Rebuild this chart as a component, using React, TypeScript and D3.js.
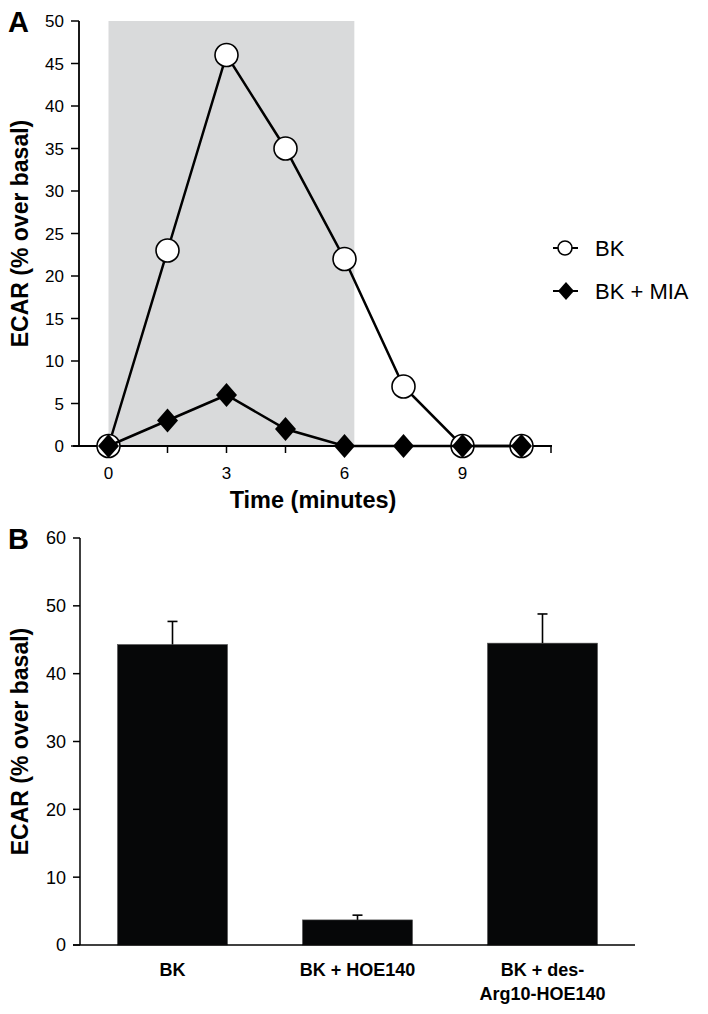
import React from 'react';
import * as d3 from 'd3';

// ---------- Panel A data ----------
const timePoints = [0, 1.5, 3, 4.5, 6, 7.5, 9, 10.5];
const bkValues = [0, 23, 46, 35, 22, 7, 0, 0];
const bkMiaValues = [0, 3, 6, 2, 0, 0, 0, 0];
const topYTicks = [0, 5, 10, 15, 20, 25, 30, 35, 40, 45, 50];
const topXTicks = [0, 1.5, 3, 4.5, 6, 7.5, 9, 10.5, 11.25];
const topXLabels = [0, 3, 6, 9];
const stimulusWindow = [0, 6.25];
const seriesNames = ['BK', 'BK + MIA'];

// ---------- Panel B data ----------
const barCategories = [['BK'], ['BK + HOE140'], ['BK + des-', 'Arg10-HOE140']];
const barValues = [44.3, 3.7, 44.5];
const barErrors = [3.4, 0.7, 4.3];
const bottomYTicks = [0, 10, 20, 30, 40, 50, 60];

const FONT = '"Liberation Sans", Arial, Helvetica, sans-serif';

export default function App() {
  // Panel A scales
  const x = d3.scaleLinear().domain([-0.75, 11.25]).range([79, 551]);
  const y = d3.scaleLinear().domain([0, 50]).range([446, 21]);
  const ptsBK = timePoints.map((t, i) => [x(t), y(bkValues[i])] as [number, number]);
  const ptsMIA = timePoints.map((t, i) => [x(t), y(bkMiaValues[i])] as [number, number]);
  const line = d3.line();
  const diamond = (cx: number, cy: number, rx: number, ry: number) =>
    `M${cx},${cy - ry}L${cx + rx},${cy}L${cx},${cy + ry}L${cx - rx},${cy}Z`;

  // Panel B scales
  const xb = d3
    .scaleBand<number>()
    .domain(barValues.map((_, i) => i))
    .range([80, 635])
    .paddingInner(0.405)
    .paddingOuter(0.2025);
  const yb = d3.scaleLinear().domain([0, 60]).range([945, 538]);

  const legendY = [248, 291];

  return (
    <div style={{ position: 'absolute', left: 0, top: 0 }}>
      <svg width={708} height={1014} style={{ display: 'block', background: '#fff' }} fontFamily={FONT}>
        {/* ================= Panel A ================= */}
        <text x={8} y={32} fontSize={29} fontWeight="bold">A</text>
        <rect
          x={x(stimulusWindow[0])}
          y={y(50)}
          width={x(stimulusWindow[1]) - x(stimulusWindow[0])}
          height={y(0) - y(50)}
          fill="#d9dadb"
        />
        {/* y axis */}
        <line x1={79} x2={79} y1={y(50)} y2={y(0)} stroke="#000" strokeWidth={1.8} />
        {topYTicks.map((t) => (
          <g key={'yt' + t}>
            <line x1={71} x2={79} y1={y(t)} y2={y(t)} stroke="#000" strokeWidth={1.5} />
            <text x={64} y={y(t)} dy="0.36em" textAnchor="end" fontSize={17}>{t}</text>
          </g>
        ))}
        {/* x axis */}
        <line x1={73} x2={552} y1={y(0)} y2={y(0)} stroke="#000" strokeWidth={1.8} />
        {topXTicks.map((t) => (
          <line key={'xt' + t} x1={x(t)} x2={x(t)} y1={y(0)} y2={y(0) + 7} stroke="#000" strokeWidth={1.5} />
        ))}
        {topXLabels.map((t) => (
          <text key={'xl' + t} x={x(t)} y={479} textAnchor="middle" fontSize={17}>{t}</text>
        ))}
        <text x={313} y={508} textAnchor="middle" fontSize={23.5} fontWeight="bold">Time (minutes)</text>
        <text
          transform={`translate(28,${(y(0) + y(50)) / 2}) rotate(-90)`}
          textAnchor="middle"
          fontSize={23}
          fontWeight="bold"
        >
          ECAR (% over basal)
        </text>

        {/* BK series */}
        <path d={line(ptsBK) || ''} fill="none" stroke="#000" strokeWidth={2.5} />
        {ptsBK.map((p, i) => (
          <circle key={'c' + i} cx={p[0]} cy={p[1]} r={11.5} fill="#fff" stroke="#000" strokeWidth={1.6} />
        ))}
        {/* BK + MIA series */}
        <path d={line(ptsMIA) || ''} fill="none" stroke="#000" strokeWidth={2.5} />
        {ptsMIA.map((p, i) => (
          <path key={'d' + i} d={diamond(p[0], p[1], 10.5, 12)} fill="#000" />
        ))}

        {/* Legend */}
        <line x1={553} x2={578} y1={legendY[0]} y2={legendY[0]} stroke="#000" strokeWidth={2} />
        <circle cx={565} cy={legendY[0]} r={7} fill="#fff" stroke="#000" strokeWidth={1.6} />
        <text x={595} y={legendY[0]} dy="0.36em" fontSize={22}>{seriesNames[0]}</text>
        <line x1={553} x2={578} y1={legendY[1]} y2={legendY[1]} stroke="#000" strokeWidth={2} />
        <path d={diamond(566, legendY[1], 8, 9)} fill="#000" />
        <text x={595} y={legendY[1]} dy="0.36em" fontSize={22}>{seriesNames[1]}</text>

        {/* ================= Panel B ================= */}
        <text x={8} y={549} fontSize={29} fontWeight="bold">B</text>
        {barValues.map((v, i) => {
          const cx = (xb(i) as number) + xb.bandwidth() / 2;
          return (
            <g key={'b' + i}>
              <rect
                x={xb(i)}
                y={yb(v)}
                width={xb.bandwidth()}
                height={yb(0) - yb(v)}
                fill="#060708"
                stroke="#555"
                strokeWidth={0.6}
              />
              <line x1={cx} x2={cx} y1={yb(v)} y2={yb(v + barErrors[i])} stroke="#000" strokeWidth={1.6} />
              <line x1={cx - 5} x2={cx + 5} y1={yb(v + barErrors[i])} y2={yb(v + barErrors[i])} stroke="#000" strokeWidth={1.6} />
            </g>
          );
        })}
        <line x1={80} x2={80} y1={yb(60)} y2={yb(0)} stroke="#000" strokeWidth={1.5} />
        {bottomYTicks.map((t) => (
          <g key={'byt' + t}>
            <line x1={73} x2={80} y1={yb(t)} y2={yb(t)} stroke="#000" strokeWidth={1.5} />
            <text x={66} y={yb(t)} dy="0.36em" textAnchor="end" fontSize={18}>{t}</text>
          </g>
        ))}
        <line x1={73} x2={635} y1={yb(0)} y2={yb(0)} stroke="#000" strokeWidth={1.5} />
        {barCategories.map((lines, i) => {
          const cx = (xb(i) as number) + xb.bandwidth() / 2;
          return (
            <text key={'bl' + i} x={cx} y={976} textAnchor="middle" fontSize={18} fontWeight="bold">
              {lines.map((l, j) => (
                <tspan key={j} x={cx} dy={j === 0 ? 0 : 24}>{l}</tspan>
              ))}
            </text>
          );
        })}
        <text
          transform={`translate(28,${(yb(0) + yb(60)) / 2}) rotate(-90)`}
          textAnchor="middle"
          fontSize={23}
          fontWeight="bold"
        >
          ECAR (% over basal)
        </text>
      </svg>
    </div>
  );
}
